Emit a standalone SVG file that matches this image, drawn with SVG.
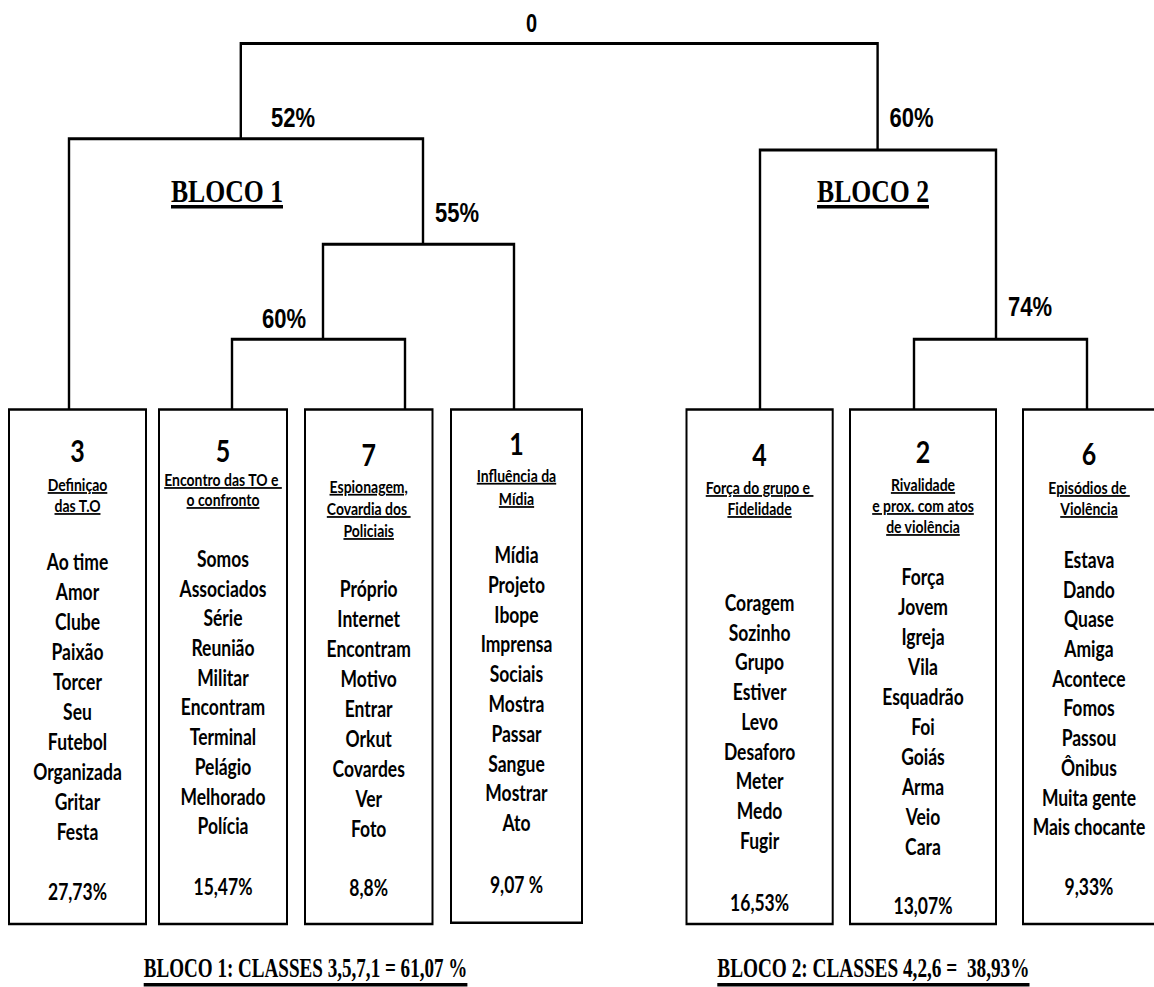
<svg xmlns="http://www.w3.org/2000/svg" width="1154" height="987" viewBox="0 0 1154 987">
<style>
.ln{stroke:#000;stroke-width:2.4;fill:none}
.box{fill:#fff;stroke:#000;stroke-width:2}
.pct{font-family:"Liberation Sans",Arial,sans-serif;font-weight:bold;font-size:22px;text-anchor:middle;fill:#000}
.blk{font-family:"Liberation Serif","Times New Roman",serif;font-weight:bold;font-size:26px;fill:#000}
.bot{font-family:"Liberation Serif","Times New Roman",serif;font-weight:bold;font-size:21px;fill:#000}
.num{font-family:Lato,"Open Sans",sans-serif;font-weight:bold;font-size:25px;text-anchor:middle;fill:#000}
.hd{font-family:Lato,"Open Sans",sans-serif;font-weight:bold;font-size:14px;text-anchor:middle;fill:#000}
.u{text-decoration:underline}
.w{font-family:Lato,"Open Sans",sans-serif;font-weight:bold;font-size:17.5px;text-anchor:middle;fill:#000}
</style>
<rect width="1154" height="987" fill="#fff"/>
<g transform="scale(1,1.25)">
<g id="connectors">
<path class="ln" d="M240.8,111 V34.7 H877.6 V120"/>
<path class="ln" d="M69,327.6 V111 H423 V195.4"/>
<path class="ln" d="M323,271.4 V195.4 H514 V327.6"/>
<path class="ln" d="M232,327.6 V271.4 H405 V327.6"/>
<path class="ln" d="M760,327.6 V120 H996 V271.4"/>
<path class="ln" d="M914,327.6 V271.4 H1087 V327.6"/>
</g>
<g id="labels">
<text class="pct" x="531.5" y="25.6" style="font-size:20px">0</text>
<text class="pct" x="293" y="101.3">52%</text>
<text class="pct" x="911.5" y="101.6">60%</text>
<text class="pct" x="457" y="177.3">55%</text>
<text class="pct" x="284" y="262.4">60%</text>
<text class="pct" x="1030" y="252.8">74%</text>
<text class="blk" x="171" y="161.3" textLength="112" lengthAdjust="spacingAndGlyphs">BLOCO 1</text>
<rect x="171" y="164" width="112" height="2.8"/>
<text class="blk" x="817" y="161.3" textLength="112" lengthAdjust="spacingAndGlyphs">BLOCO 2</text>
<rect x="817" y="164" width="112" height="2.8"/>
<text class="bot" x="143.7" y="781.6" textLength="323.7" lengthAdjust="spacingAndGlyphs">BLOCO 1: CLASSES 3,5,7,1 = 61,07 %</text>
<rect x="143.7" y="786.4" width="323.7" height="2.8"/>
<text class="bot" x="717.3" y="781.6" textLength="312.2" lengthAdjust="spacingAndGlyphs" xml:space="preserve">BLOCO 2: CLASSES 4,2,6 =  38,93%</text>
<rect x="717.3" y="786.4" width="312.2" height="2.8"/>
</g>
<g id="class3">
<rect class="box" x="9" y="327.6" width="137" height="411.6"/>
<text class="num" x="77.5" y="369.4">3</text>
<text class="hd u" x="77.5" y="392.8">Definiçao</text>
<text class="hd u" x="77.5" y="409.6">das T.O</text>
<text class="w" x="77.5" y="456">Ao time</text>
<text class="w" x="77.5" y="480">Amor</text>
<text class="w" x="77.5" y="504">Clube</text>
<text class="w" x="77.5" y="528">Paixão</text>
<text class="w" x="77.5" y="552">Torcer</text>
<text class="w" x="77.5" y="576">Seu</text>
<text class="w" x="77.5" y="600">Futebol</text>
<text class="w" x="77.5" y="624">Organizada</text>
<text class="w" x="77.5" y="648">Gritar</text>
<text class="w" x="77.5" y="672">Festa</text>
<text class="w" x="77.5" y="720">27,73%</text>
</g>
<g id="class5">
<rect class="box" x="159" y="327.6" width="128" height="411.6"/>
<text class="num" x="223" y="369.6">5</text>
<text class="hd u" x="223" y="388.8" xml:space="preserve">Encontro das TO e </text>
<text class="hd u" x="223" y="404.8">o confronto</text>
<text class="w" x="223" y="453.6">Somos</text>
<text class="w" x="223" y="477.4">Associados</text>
<text class="w" x="223" y="501.1">Série</text>
<text class="w" x="223" y="524.9">Reunião</text>
<text class="w" x="223" y="548.7">Militar</text>
<text class="w" x="223" y="572.4">Encontram</text>
<text class="w" x="223" y="596.2">Terminal</text>
<text class="w" x="223" y="619.9">Pelágio</text>
<text class="w" x="223" y="643.7">Melhorado</text>
<text class="w" x="223" y="667.4">Polícia</text>
<text class="w" x="223" y="716">15,47%</text>
</g>
<g id="class7">
<rect class="box" x="305" y="327.6" width="127.5" height="411.6"/>
<text class="num" x="368.7" y="372.8">7</text>
<text class="hd u" x="368.7" y="394.2">Espionagem,</text>
<text class="hd u" x="368.7" y="412" xml:space="preserve">Covardia dos </text>
<text class="hd u" x="368.7" y="429.6">Policiais</text>
<text class="w" x="368.7" y="477.6">Próprio</text>
<text class="w" x="368.7" y="501.6">Internet</text>
<text class="w" x="368.7" y="525.6">Encontram</text>
<text class="w" x="368.7" y="549.6">Motivo</text>
<text class="w" x="368.7" y="573.6">Entrar</text>
<text class="w" x="368.7" y="597.6">Orkut</text>
<text class="w" x="368.7" y="621.6">Covardes</text>
<text class="w" x="368.7" y="645.6">Ver</text>
<text class="w" x="368.7" y="669.6">Foto</text>
<text class="w" x="368.7" y="716.8">8,8%</text>
</g>
<g id="class1">
<rect class="box" x="451" y="327.6" width="131" height="410.6"/>
<text class="num" x="516.5" y="364">1</text>
<text class="hd u" x="516.5" y="385.4">Influência da</text>
<text class="hd u" x="516.5" y="404">Mídia</text>
<text class="w" x="516.5" y="450.4">Mídia</text>
<text class="w" x="516.5" y="474.2">Projeto</text>
<text class="w" x="516.5" y="498.1">Ibope</text>
<text class="w" x="516.5" y="521.9">Imprensa</text>
<text class="w" x="516.5" y="545.8">Sociais</text>
<text class="w" x="516.5" y="569.6">Mostra</text>
<text class="w" x="516.5" y="593.4">Passar</text>
<text class="w" x="516.5" y="617.3">Sangue</text>
<text class="w" x="516.5" y="641.1">Mostrar</text>
<text class="w" x="516.5" y="665">Ato</text>
<text class="w" x="516.5" y="714.6" xml:space="preserve">9,07 %</text>
</g>
<g id="class4">
<rect class="box" x="686.5" y="327.6" width="146.2" height="411.6"/>
<text class="num" x="759.6" y="372.8">4</text>
<text class="hd u" x="759.6" y="395.2" xml:space="preserve">Força do grupo e </text>
<text class="hd u" x="759.6" y="412">Fidelidade</text>
<text class="w" x="759.6" y="488.8">Coragem</text>
<text class="w" x="759.6" y="512.6">Sozinho</text>
<text class="w" x="759.6" y="536.4">Grupo</text>
<text class="w" x="759.6" y="560.2">Estiver</text>
<text class="w" x="759.6" y="584">Levo</text>
<text class="w" x="759.6" y="607.8">Desaforo</text>
<text class="w" x="759.6" y="631.6">Meter</text>
<text class="w" x="759.6" y="655.4">Medo</text>
<text class="w" x="759.6" y="679.2">Fugir</text>
<text class="w" x="759.6" y="728.8">16,53%</text>
</g>
<g id="class2">
<rect class="box" x="850" y="327.6" width="146" height="411.6"/>
<text class="num" x="923" y="370.4">2</text>
<text class="hd u" x="923" y="392.8">Rivalidade</text>
<text class="hd u" x="923" y="409.6">e prox. com atos</text>
<text class="hd u" x="923" y="426.4">de violência</text>
<text class="w" x="923" y="468">Força</text>
<text class="w" x="923" y="492">Jovem</text>
<text class="w" x="923" y="516">Igreja</text>
<text class="w" x="923" y="540">Vila</text>
<text class="w" x="923" y="564">Esquadrão</text>
<text class="w" x="923" y="588">Foi</text>
<text class="w" x="923" y="612">Goiás</text>
<text class="w" x="923" y="636">Arma</text>
<text class="w" x="923" y="660">Veio</text>
<text class="w" x="923" y="684">Cara</text>
<text class="w" x="923" y="731.2">13,07%</text>
</g>
<g id="class6">
<rect class="box" x="1023" y="327.6" width="140" height="411.6"/>
<text class="num" x="1089" y="372">6</text>
<text class="hd" x="1089" y="395.2" xml:space="preserve">E<tspan class="u">pisódios de </tspan></text>
<text class="hd u" x="1089" y="412">Violência</text>
<text class="w" x="1089" y="454.4">Estava</text>
<text class="w" x="1089" y="478.2">Dando</text>
<text class="w" x="1089" y="501.9">Quase</text>
<text class="w" x="1089" y="525.7">Amiga</text>
<text class="w" x="1089" y="549.4">Acontece</text>
<text class="w" x="1089" y="573.2">Fomos</text>
<text class="w" x="1089" y="597">Passou</text>
<text class="w" x="1089" y="620.7">Ônibus</text>
<text class="w" x="1089" y="644.5">Muita gente</text>
<text class="w" x="1089" y="668.2">Mais chocante</text>
<text class="w" x="1089" y="716">9,33%</text>
</g>
</g>
</svg>
